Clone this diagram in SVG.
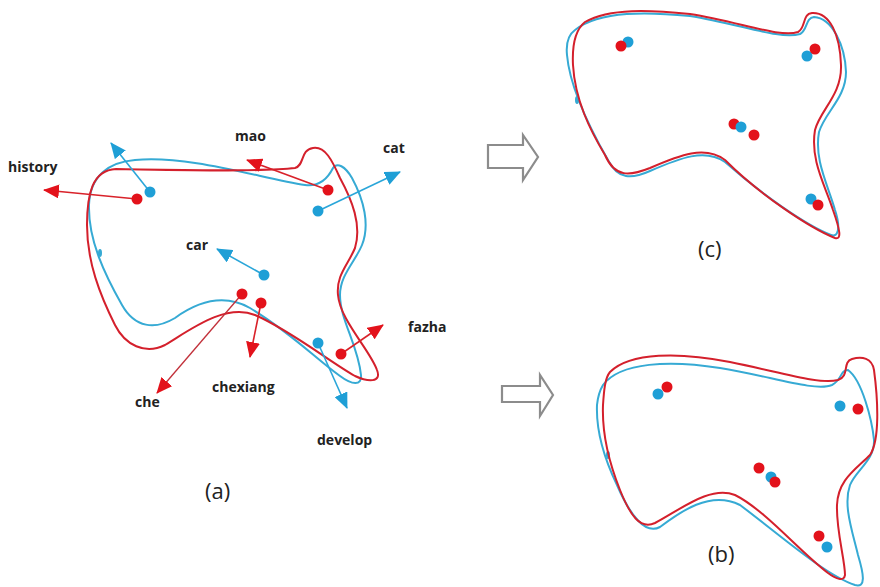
<svg xmlns="http://www.w3.org/2000/svg" width="880" height="587" viewBox="0 0 880 587">
  <defs>
    <style>
      .red-curve { fill: none; stroke: #d4202c; stroke-width: 2; }
      .blue-curve { fill: none; stroke: #36aad4; stroke-width: 2; }
      .red-dot { fill: #e3121b; }
      .blue-dot { fill: #1f9fd6; }
      .red-vec { stroke: #d9222a; stroke-width: 1.6; fill: none; marker-end: url(#head-red); }
      .blue-vec { stroke: #2aa6d9; stroke-width: 1.6; fill: none; marker-end: url(#head-blue); }
      .word { font-family: "Open Sans", "Liberation Sans", sans-serif; font-weight: 700; font-size: 14px; fill: #222; }
      .caption { font-family: "Open Sans", "Liberation Sans", sans-serif; font-size: 22px; fill: #222; }
      .step { fill: #fff; stroke: #8c8c8c; stroke-width: 2.2; stroke-linejoin: miter; }
    </style>
    <marker id="head-red" viewBox="0 0 16 14" refX="15" refY="7" markerWidth="16" markerHeight="14" markerUnits="userSpaceOnUse" orient="auto">
      <path d="M0,0 L16,7 L0,14 Z" fill="#e3121b"/>
    </marker>
    <marker id="head-blue" viewBox="0 0 16 14" refX="15" refY="7" markerWidth="16" markerHeight="14" markerUnits="userSpaceOnUse" orient="auto">
      <path d="M0,0 L16,7 L0,14 Z" fill="#1f9fd6"/>
    </marker>
  </defs>

  <!-- (a): two word clouds with their shift vectors -->
  <g id="panel-a">
    <path class="blue-curve" d="M 135,160 C 190,155 260,178 305,185 C 320,187 328,178 333,168 C 337,162 345,166 352,178 C 364,200 370,225 362,245 C 355,262 340,275 340,295 C 340,320 358,345 361,375 C 362,386 352,385 340,376 C 315,358 290,332 250,308 C 225,294 200,300 175,318 C 155,330 135,328 122,305 C 105,275 88,240 89,205 C 90,175 110,162 135,160 Z"/>
    <ellipse cx="100" cy="253" rx="2" ry="4" fill="#36aad4"/>
    <path class="red-curve" d="M 116,169 C 180,170 260,172 295,168 C 305,165 300,150 313,148 C 325,146 332,160 340,178 C 352,200 362,225 355,248 C 348,265 336,275 338,295 C 340,320 370,350 377,370 C 382,383 368,382 355,376 C 330,362 290,330 255,315 C 225,303 190,330 165,345 C 145,355 125,345 115,325 C 100,295 87,262 87,225 C 87,195 92,170 116,169 Z"/>
  </g>

  <g id="connectors">
    <line class="red-vec" x1="137" y1="199" x2="44" y2="190"/>
    <line class="blue-vec" x1="150" y1="192" x2="111" y2="143"/>
    <line class="red-vec" x1="328" y1="190" x2="247" y2="160"/>
    <line class="blue-vec" x1="318" y1="211" x2="400" y2="172"/>
    <line class="blue-vec" x1="264" y1="275" x2="217" y2="249"/>
    <line class="red-vec" x1="242" y1="294" x2="157" y2="393" style="stroke:#c2303a;stroke-width:1.3"/>
    <line class="red-vec" x1="261" y1="303" x2="250" y2="357"/>
    <line class="blue-vec" x1="318" y1="343" x2="347" y2="408"/>
    <line class="red-vec" x1="341" y1="354" x2="383" y2="325"/>
  </g>

  <g id="node-history">
    <circle class="red-dot" cx="137" cy="199" r="5.5"/>
    <text class="word" x="8" y="172">history</text>
  </g>
  <g id="node-history-blue">
    <circle class="blue-dot" cx="150" cy="192" r="5.5"/>
  </g>
  <g id="node-mao">
    <circle class="red-dot" cx="328" cy="190" r="5.5"/>
    <text class="word" x="235" y="141">mao</text>
  </g>
  <g id="node-cat">
    <circle class="blue-dot" cx="318" cy="211" r="5.5"/>
    <text class="word" x="383" y="153">cat</text>
  </g>
  <g id="node-car">
    <circle class="blue-dot" cx="264" cy="275" r="5.5"/>
    <text class="word" x="186" y="250">car</text>
  </g>
  <g id="node-che">
    <circle class="red-dot" cx="242" cy="294" r="5.5"/>
    <text class="word" x="135" y="407">che</text>
  </g>
  <g id="node-chexiang">
    <circle class="red-dot" cx="261" cy="303" r="5.5"/>
    <text class="word" x="212" y="392">chexiang</text>
  </g>
  <g id="node-develop">
    <circle class="blue-dot" cx="318" cy="343" r="5.5"/>
    <text class="word" x="317" y="445">develop</text>
  </g>
  <g id="node-fazha">
    <circle class="red-dot" cx="341" cy="354" r="5.5"/>
    <text class="word" x="408" y="332">fazha</text>
  </g>
  <text class="caption" x="205" y="499">(a)</text>

  <!-- step arrows -->
  <polygon id="step-c" class="step" points="488,145 523,145 523,135 538,157 523,180 523,168 488,168"/>
  <polygon id="step-b" class="step" points="502,386 540,386 540,375 553,395 540,416 540,402 502,402"/>

  <!-- (c): aligned result -->
  <g id="panel-c">
    <path class="blue-curve" d="M 575,30 C 600,10 650,12 690,16 C 740,24 780,40 800,34 C 808,30 805,18 814,17 C 832,18 845,45 846,72 C 846,98 825,112 819,132 C 814,160 828,185 835,210 C 841,228 838,238 831,235 C 805,225 760,193 725,162 C 705,148 680,158 650,171 C 632,179 618,180 608,160 C 592,132 570,90 567,55 C 566,45 568,35 575,30 Z"/>
    <ellipse cx="577" cy="100" rx="2" ry="4" fill="#36aad4"/>
    <path class="red-curve" d="M 585,22 C 610,8 650,10 690,14 C 740,22 780,38 798,32 C 806,28 802,14 812,13 C 830,12 840,35 841,65 C 842,95 820,110 815,130 C 810,160 825,185 833,210 C 840,230 842,240 835,238 C 810,228 760,195 725,160 C 705,145 680,155 650,168 C 630,176 615,178 605,155 C 590,130 575,100 573,65 C 572,45 575,30 585,22 Z"/>
    <circle class="blue-dot" cx="628" cy="42" r="5.5"/>
    <circle class="red-dot" cx="621" cy="46" r="5.5"/>
    <circle class="blue-dot" cx="807" cy="56" r="5.5"/>
    <circle class="red-dot" cx="815" cy="49" r="5.5"/>
    <circle class="red-dot" cx="734" cy="124" r="5.5"/>
    <circle class="blue-dot" cx="741" cy="127" r="5.5"/>
    <circle class="red-dot" cx="754" cy="135" r="5.5"/>
    <circle class="blue-dot" cx="811" cy="199" r="5.5"/>
    <circle class="red-dot" cx="818" cy="205" r="5.5"/>
    <text class="caption" x="698" y="257">(c)</text>
  </g>

  <!-- (b): aligned result -->
  <g id="panel-b">
    <path class="blue-curve" d="M 603,385 C 620,362 670,360 720,368 C 770,376 815,392 832,385 C 842,380 840,370 848,370 C 862,380 872,420 874,440 C 875,460 856,470 850,485 C 843,505 852,530 858,555 C 864,575 866,588 855,585 C 825,575 780,535 740,505 C 710,490 680,512 660,527 C 645,535 630,515 617,485 C 605,460 596,430 597,405 C 598,395 600,390 603,385 Z"/>
    <ellipse cx="608" cy="455" rx="2" ry="4" fill="#36aad4"/>
    <path class="red-curve" d="M 610,372 C 630,352 680,352 730,362 C 780,372 820,385 838,380 C 850,376 842,362 852,359 C 862,356 872,358 874,370 C 878,400 880,440 870,455 C 855,470 838,480 837,505 C 836,530 845,560 845,575 C 844,582 836,579 828,573 C 800,552 765,510 735,495 C 710,485 680,510 655,523 C 640,530 630,515 620,490 C 608,460 602,430 603,405 C 604,390 605,378 610,372 Z"/>
    <circle class="blue-dot" cx="658" cy="394" r="5.5"/>
    <circle class="red-dot" cx="667" cy="387" r="5.5"/>
    <circle class="blue-dot" cx="840" cy="406" r="5.5"/>
    <circle class="red-dot" cx="858" cy="409" r="5.5"/>
    <circle class="red-dot" cx="759" cy="468" r="5.5"/>
    <circle class="blue-dot" cx="771" cy="477" r="5.5"/>
    <circle class="red-dot" cx="775" cy="482" r="5.5"/>
    <circle class="red-dot" cx="819" cy="536" r="5.5"/>
    <circle class="blue-dot" cx="827" cy="547" r="5.5"/>
    <text class="caption" x="708" y="562">(b)</text>
  </g>
</svg>
